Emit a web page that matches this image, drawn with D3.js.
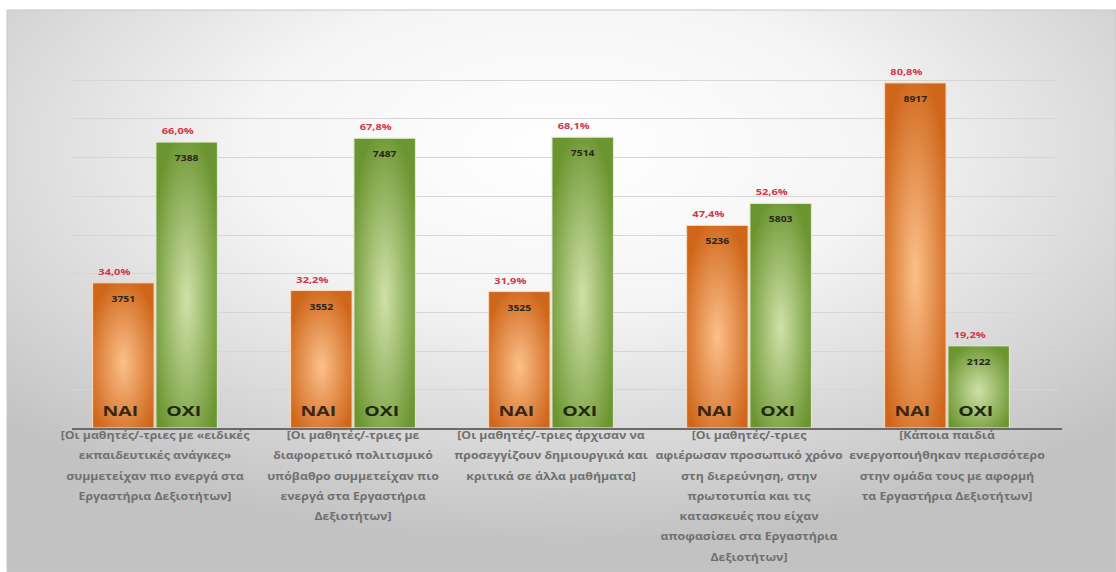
<!DOCTYPE html>
<html>
<head>
<meta charset="utf-8">
<title>NAI / OXI</title>
<script src="https://d3js.org/d3.v7.min.js"></script>
<style>
  body { margin: 0; background: #fff; }
  svg { display: block; }
  text { font-family: "Open Sans", "DejaVu Sans", sans-serif; }
</style>
</head>
<body>
<svg id="svg" width="1116" height="572"></svg>
<script>
// data
const categories = [
  ["[Οι μαθητές/-τριες με «ειδικές", "εκπαιδευτικές ανάγκες»", "συμμετείχαν πιο ενεργά στα", "Εργαστήρια Δεξιοτήτων]"],
  ["[Οι μαθητές/-τριες με", "διαφορετικό πολιτισμικό", "υπόβαθρο συμμετείχαν πιο", "ενεργά στα Εργαστήρια", "Δεξιοτήτων]"],
  ["[Οι μαθητές/-τριες άρχισαν να", "προσεγγίζουν δημιουργικά και", "κριτικά σε άλλα μαθήματα]"],
  ["[Οι μαθητές/-τριες", "αφιέρωσαν προσωπικό χρόνο", "στη διερεύνηση, στην", "πρωτοτυπία και τις", "κατασκευές που είχαν", "αποφασίσει στα Εργαστήρια", "Δεξιοτήτων]"],
  ["[Κάποια παιδιά", "ενεργοποιήθηκαν περισσότερο", "στην ομάδα τους με αφορμή", "τα Εργαστήρια Δεξιοτήτων]"]
];
const series = ["NAI", "OXI"];
const naiValues = [3751, 3552, 3525, 5236, 8917];
const oxiValues = [7388, 7487, 7514, 5803, 2122];
const naiPct = [34.0, 32.2, 31.9, 47.4, 80.8];
const oxiPct = [66.0, 67.8, 68.1, 52.6, 19.2];
const gridTicks = [1000, 2000, 3000, 4000, 5000, 6000, 7000, 8000, 9000];

const svg = d3.select("#svg");
const W = 1116, H = 572;
const baseY = 428;
const sx = 1.3; // the text in the picture is stretched sideways

const defs = svg.append("defs");

// background panel
const bg = defs.append("radialGradient").attr("id", "bg")
  .attr("cx", "0.5").attr("cy", "0.25").attr("r", "0.7");
bg.append("stop").attr("offset", "0").attr("stop-color", "#ffffff");
bg.append("stop").attr("offset", "0.4").attr("stop-color", "#f5f5f5");
bg.append("stop").attr("offset", "1").attr("stop-color", "#c2c2c2");

function barGrad(id, inner, outer) {
  const g = defs.append("radialGradient").attr("id", id)
    .attr("cx", "0.5").attr("cy", "0.55").attr("r", "0.6");
  g.append("stop").attr("offset", "0").attr("stop-color", inner);
  g.append("stop").attr("offset", "1").attr("stop-color", outer);
}
barGrad("gNAI", "#fcc08a", "#cf661a");
barGrad("gOXI", "#cfe1a8", "#6b9530");

svg.append("rect").attr("width", W).attr("height", H).attr("fill", "#fff");
svg.append("rect")
  .attr("x", 7).attr("y", 10).attr("width", W - 7).attr("height", H - 10)
  .attr("fill", "url(#bg)")
  .attr("stroke", "#c8c8c8").attr("stroke-width", 1);

// scales
const x0 = d3.scaleBand()
  .domain(d3.range(categories.length))
  .range([56, 1046])
  .paddingInner(0.37)
  .paddingOuter(0.185);
const x1 = d3.scaleBand()
  .domain(series)
  .range([0, x0.bandwidth()])
  .paddingInner(0.03);
const y = d3.scaleLinear().domain([0, 10000]).range([baseY, 41]);

// gridlines
svg.append("g").selectAll("line").data(gridTicks).join("line")
  .attr("x1", 72).attr("x2", 1058)
  .attr("y1", d => Math.round(y(d)) + 0.5).attr("y2", d => Math.round(y(d)) + 0.5)
  .attr("stroke", "#d6d6d6").attr("stroke-width", 1);

const rows = categories.map((c, i) => ({
  i: i,
  bars: [
    { s: "NAI", v: naiValues[i], p: naiPct[i] },
    { s: "OXI", v: oxiValues[i], p: oxiPct[i] }
  ]
}));

const fmtPct = p => p.toFixed(1).replace(".", ",") + "%";

const grp = svg.append("g").selectAll("g").data(rows).join("g")
  .attr("transform", d => `translate(${x0(d.i)},0)`);

const bar = grp.selectAll("g").data(d => d.bars).join("g")
  .attr("transform", d => `translate(${x1(d.s)},0)`);

bar.append("rect")
  .attr("x", 0)
  .attr("y", d => y(d.v))
  .attr("width", x1.bandwidth())
  .attr("height", d => baseY - y(d.v))
  .attr("fill", d => `url(#g${d.s})`)
  .attr("stroke", d => d.s === "NAI" ? "#f6dcc2" : "#e2ecd2")
  .attr("stroke-width", 1);

// percent above bar
bar.append("text")
  .attr("transform", d => `translate(${x1.bandwidth() / 2 - 9},${y(d.v) - 8}) scale(${sx},1)`)
  .attr("text-anchor", "middle")
  .attr("font-size", 8.5).attr("font-weight", 700)
  .attr("fill", "#d2364a")
  .text(d => fmtPct(d.p));

// value inside top
bar.append("text")
  .attr("transform", d => `translate(${x1.bandwidth() / 2},${y(d.v) + 19}) scale(${sx},1)`)
  .attr("text-anchor", "middle")
  .attr("font-size", 8).attr("font-weight", 700)
  .attr("fill", "#2b2616")
  .text(d => d.v);

// series name at bottom of bar
bar.append("text")
  .attr("transform", d => `translate(${x1.bandwidth() / 2 - 3},${baseY - 12}) scale(${sx},1)`)
  .attr("text-anchor", "middle")
  .attr("font-family", "Liberation Sans, Arial, sans-serif")
  .attr("font-size", 15).attr("font-weight", 700)
  .attr("fill", d => d.s === "NAI" ? "#3a2614" : "#1e2a10")
  .text(d => d.s);

// axis line
svg.append("line")
  .attr("x1", 72).attr("x2", 1062)
  .attr("y1", baseY + 1).attr("y2", baseY + 1)
  .attr("stroke", "#6a6a6a").attr("stroke-width", 2);

// category labels
const lab = svg.append("g").selectAll("text").data(categories).join("text")
  .attr("transform", (d, i) => `translate(${x0(i) + x0.bandwidth() / 2},439) scale(1.12,1)`)
  .attr("text-anchor", "middle")
  .attr("font-size", 11).attr("font-weight", 700)
  .attr("fill", "#707070");
lab.selectAll("tspan").data(d => d).join("tspan")
  .attr("x", 0)
  .attr("dy", (d, k) => k === 0 ? 0 : 20.3)
  .text(d => d);
</script>
</body>
</html>
